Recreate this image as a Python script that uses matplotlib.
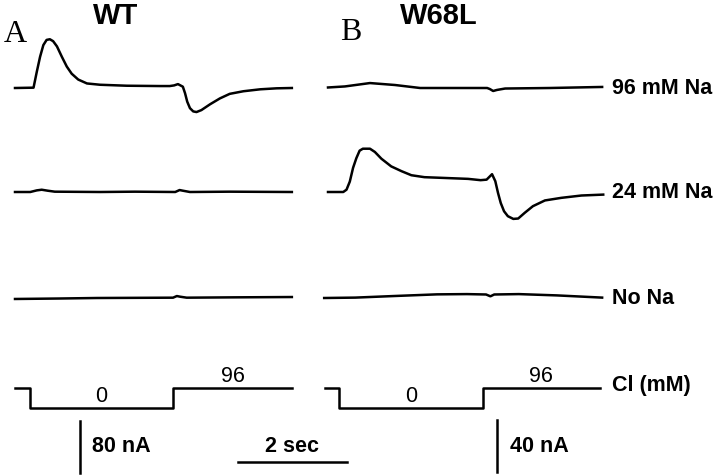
import matplotlib
matplotlib.use('Agg')
import matplotlib.pyplot as plt

# --- data (time in s, current in nA) ---
# panel A, wild type
t_wt96 = [0, 0.34, 0.40, 0.46, 0.52, 0.58, 0.64, 0.70, 0.77, 0.86, 0.95, 1.04, 1.16, 1.32,
          1.56, 2.05, 2.66, 2.84, 2.92, 2.99, 3.08, 3.12, 3.16, 3.21, 3.27, 3.33, 3.42, 3.58,
          3.76, 3.94, 4.19, 4.50, 4.80, 5.08]
i_wt96 = [0, 0.5, 25, 48, 66, 74, 75, 72, 64, 48, 33, 22, 13, 7,
          5, 3.5, 3, 3, 4, 6, 2, -8, -21, -31, -36, -37, -34, -25,
          -16, -9, -5, -2, -0.5, 0]
t_wt24 = [0, 0.28, 0.40, 0.49, 0.60, 0.73, 1.56, 2.20, 2.94, 3.02, 3.08, 3.21, 3.94, 5.08]
i_wt24 = [0, 0, 2.5, 3.5, 2, 0.5, 0, 0.5, 0, 3, 2, 0, 0.5, 0]
t_wt0 = [0, 0.8, 1.5, 2.9, 2.97, 3.03, 3.15, 4.0, 5.08]
i_wt0 = [-1.5, -0.8, 0, 0.5, 3, 2, 0.5, 1, 1.5]

# panel B, W68L
t_mu96 = [0, 0.31, 0.77, 1.23, 1.69, 2.92, 2.97, 3.03, 3.10, 3.25, 4.07, 5.03]
i_mu96 = [0.4, 1.2, 3.8, 2.3, 0, 0, -0.8, -2.3, -1.5, -0.4, 0, 0.8]
t_mu24 = [0, 0.28, 0.34, 0.40, 0.46, 0.52, 0.58, 0.64, 0.77, 0.86, 0.98, 1.16, 1.35, 1.53,
          1.77, 2.08, 2.57, 2.80, 2.91, 3.01, 3.07, 3.12, 3.17, 3.23, 3.30, 3.40, 3.49, 3.61,
          3.76, 3.98, 4.28, 4.65, 5.05]
i_mu24 = [0, 0, 1.8, 8, 18.6, 26, 31.8, 33.3, 33.3, 30.8, 25.6, 19.7, 16, 12.9,
          11.4, 10.9, 10.1, 9.1, 9.5, 13.7, 8.3, -0.8, -8.5, -14.8, -18.6, -20.7, -20.4, -16,
          -10.9, -6.5, -4.5, -2.7, -2.0]
t_mu0 = [-0.07, 0.5, 1.2, 2.0, 2.55, 2.9, 2.98, 3.05, 3.5, 4.2, 5.03]
i_mu0 = [0, 0.3, 1.5, 2.8, 3, 2.7, 1.3, 2.7, 3, 2, 0.3]

# Cl protocol (mM)
cl_t_wt = [0, 0.28, 2.90, 5.08]
cl_t_mu = [-0.055, 0.20, 2.84, 4.99]
cl_levels = [96, 0, 96, 96]

row_labels = ['96 mM Na', '24 mM Na', 'No Na', 'Cl (mM)']
bar_wt, bar_mu, bar_time = 80, 40, 2

# --- layout (pixels) ---
W, H = 720, 476
PX_PER_S = 54.5
x0_wt, x0_mu = 15, 328
row_y = [88, 192, 298]
cl_y = 408
px_nA_wt, px_nA_mu = 52 / 80, 52 / 40
px_mM = 20 / 96

fig = plt.figure(figsize=(7.2, 4.76), dpi=100)
fig.patch.set_facecolor('white')


def overlay(x0, y0, px_per_unit):
    ax = fig.add_axes([0, 0, 1, 1])
    ax.set_xlim(-x0 / PX_PER_S, (W - x0) / PX_PER_S)
    ax.set_ylim(-(H - y0) / px_per_unit, y0 / px_per_unit)
    ax.axis('off')
    ax.patch.set_alpha(0)
    return ax


def ftext(x, y, s, **kw):
    fig.text(x / W, 1 - y / H, s, **kw)


lw = 1.8
traces_wt = [(t_wt96, i_wt96), (t_wt24, i_wt24), (t_wt0, i_wt0)]
traces_mu = [(t_mu96, i_mu96), (t_mu24, i_mu24), (t_mu0, i_mu0)]
for (tw, iw), (tm, im), y in zip(traces_wt, traces_mu, row_y):
    overlay(x0_wt, y, px_nA_wt).plot(tw, iw, color='black', lw=lw)
    overlay(x0_mu, y, px_nA_mu).plot(tm, im, color='black', lw=lw)

num_font = dict(family='Liberation Sans', fontsize=15.5, ha='center', va='center')
for x0, ct in [(x0_wt, cl_t_wt), (x0_mu, cl_t_mu)]:
    ax = overlay(x0, cl_y, px_mM)
    ax.plot(ct, cl_levels, drawstyle='steps-post', color='black', lw=lw)
    for k in range(1, len(ct) - 1):
        mid = (ct[k] + ct[k + 1]) / 2
        ax.annotate(str(cl_levels[k]), (mid, cl_levels[k]), xytext=(0, 8.5),
                    textcoords='offset points', **num_font)

# scale bars
axs = overlay(x0_wt, 473, px_nA_wt)
axs.plot([1.19, 1.19], [0, bar_wt], color='black', lw=lw)
axs = overlay(x0_wt, 462, px_nA_wt)
axs.plot([4.09, 4.09 + bar_time], [0, 0], color='black', lw=lw)
axs = overlay(x0_mu, 472, px_nA_mu)
axs.plot([3.10, 3.10], [0, bar_mu], color='black', lw=lw)

bold = dict(family='Liberation Sans', fontweight='bold', fontsize=15.5, va='center')
for lab, y in zip(row_labels, row_y + [385]):
    ftext(612, y, lab, ha='left', **bold)
ftext(92, 447, f'{bar_wt} nA', ha='left', **bold)
ftext(510, 446, f'{bar_mu} nA', ha='left', **bold)
ftext(292, 446, f'{bar_time} sec', ha='center', **bold)

title = dict(family='Liberation Sans', fontweight='bold', fontsize=21, ha='center', va='center')
ftext(116, 16, 'WT', **title)
ftext(439, 16, 'W68L', **title)
letter = dict(family='Liberation Serif', fontsize=23, ha='center', va='center')
ftext(15, 34, 'A', **letter)
ftext(351, 33, 'B', **letter)

fig.savefig('out.png', dpi=100)
